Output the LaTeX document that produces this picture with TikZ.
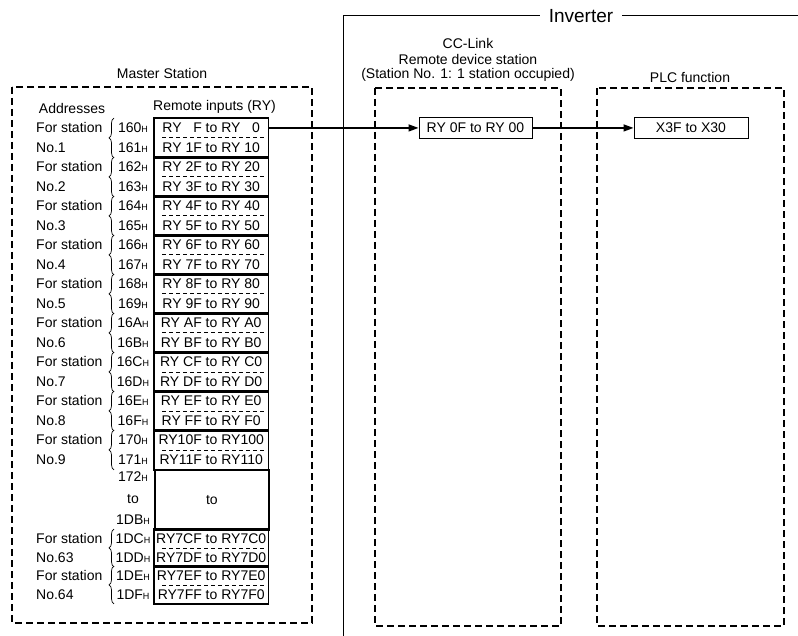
\documentclass[tikz,border=0pt]{standalone}
\usepackage{fontspec}
\setmainfont{Liberation Sans}
\usetikzlibrary{arrows.meta, decorations.pathreplacing, positioning}

\tikzset{
    txt/.style={font=\fontsize{14}{16}\selectfont, inner sep=0pt},
    zeile/.style={txt, minimum width=114pt, minimum height=19.5pt, anchor=north west},
    paar/.style={line width=1.8pt},
    trenn/.style={line width=0.8pt, dash pattern=on 4pt off 3pt},
    station/.style={line width=1.6pt, dash pattern=on 7pt off 4pt},
    kasten/.style={txt, draw, line width=1pt, minimum width=113pt, minimum height=21pt},
    klammer/.style={decorate, decoration={brace, amplitude=5pt}, line width=0.7pt},
    pfeil/.style={->, line width=1.5pt},
    rahmen/.style={line width=1pt}
}
\newcommand{\adr}[1]{#1{\fontsize{9}{9}\selectfont H}}

\begin{document}
\begin{tikzpicture}[x=1pt, y=-1pt, >={Triangle[length=10pt, width=7pt]}]
        \useasboundingbox (0,0) rectangle (798,636);

        % --- Master Station ---
        \draw[station] (12,87) rectangle (312,623);
        \node[txt] (master) at (162,73) {Master Station};
        \node[txt] (adressen) at (72,108) {Addresses};
        \node[txt, anchor=west] (eingaenge) at (153,107) {Remote inputs (RY)};

        % Stationen 1 bis 9
        \foreach \a/\b/\ta/\tb/\n [count=\i from 0] in {
            160/161/{RY \hphantom{1}F to RY \hphantom{1}0}/{RY 1F to RY 10}/1,
            162/163/{RY 2F to RY 20}/{RY 3F to RY 30}/2,
            164/165/{RY 4F to RY 40}/{RY 5F to RY 50}/3,
            166/167/{RY 6F to RY 60}/{RY 7F to RY 70}/4,
            168/169/{RY 8F to RY 80}/{RY 9F to RY 90}/5,
            16A/16B/{RY AF to RY A0}/{RY BF to RY B0}/6,
            16C/16D/{RY CF to RY C0}/{RY DF to RY D0}/7,
            16E/16F/{RY EF to RY E0}/{RY FF to RY F0}/8,
            170/171/{RY10F to RY100}/{RY11F to RY110}/9} {
            \pgfmathsetmacro\oben{118+39*\i}
            \node[zeile] (o\n) at (154,\oben) {\ta};
            \node[zeile, below=0pt of o\n] (u\n) {\tb};
            \draw[paar] (o\n.north west) rectangle (u\n.south east);
            \draw[trenn] ([xshift=8pt]o\n.south west) -- ([xshift=-3pt]o\n.south east);
            \node[txt] (ao\n) at (133,0 |- o\n) {\adr{\a}};
            \node[txt] (au\n) at (133,0 |- u\n) {\adr{\b}};
            \node[txt, anchor=west] (st\n) at (36,0 |- o\n) {For station};
            \node[txt, anchor=west] (nr\n) at (36,0 |- u\n) {No.\n};
            \draw[klammer] (114,0 |- u\n.south) -- (114,0 |- o\n.north);
        }

        % Luecke 172H bis 1DBH
        \node[zeile, draw, line width=1.8pt, minimum height=60pt] (bis) at (154,469) {to};
        \node[txt] (a172) at (133,477) {\adr{172}};
        \node[txt] (abis) at (133,499) {to};
        \node[txt] (a1DB) at (133,520) {\adr{1DB}};

        % Stationen 63 und 64
        \foreach \a/\b/\ta/\tb/\n [count=\i from 0] in {
            1DC/1DD/{RY7CF to RY7C0}/{RY7DF to RY7D0}/63,
            1DE/1DF/{RY7EF to RY7E0}/{RY7FF to RY7F0}/64} {
            \pgfmathsetmacro\oben{529+37*\i}
            \node[zeile, minimum height=18.5pt] (o\n) at (154,\oben) {\ta};
            \node[zeile, minimum height=18.5pt, below=0pt of o\n] (u\n) {\tb};
            \draw[paar] (o\n.north west) rectangle (u\n.south east);
            \draw[trenn] ([xshift=8pt]o\n.south west) -- ([xshift=-3pt]o\n.south east);
            \node[txt] (ao\n) at (133,0 |- o\n) {\adr{\a}};
            \node[txt] (au\n) at (133,0 |- u\n) {\adr{\b}};
            \node[txt, anchor=west] (st\n) at (36,0 |- o\n) {For station};
            \node[txt, anchor=west] (nr\n) at (36,0 |- u\n) {No.\n};
            \draw[klammer] (114,0 |- u\n.south) -- (114,0 |- o\n.north);
        }

        % --- Inverter ---
        \node[txt, font=\fontsize{19}{22}\selectfont, inner xsep=9pt] (inv) at (581,16) {Inverter};
        \draw[rahmen] (inv.west) -- (343,16) -- (343,636);
        \draw[rahmen] (inv.east) -- (798,16);

        % CC-Link Station
        \draw[station] (375,88) rectangle (561,626);
        \node[txt] (cc1) at (468,43) {CC-Link};
        \node[txt] (cc2) at (468,59) {Remote device station};
        \node[txt] (cc3) at (468,75) {(Station No. 1: 1 station occupied)};
        \node[kasten] (ccry) at (475.5,0 |- o1) {RY 0F to RY 00};

        % PLC-Funktion
        \draw[station] (597,88) rectangle (784,626);
        \node[txt] (plc) at (690,77) {PLC function};
        \node[kasten, minimum width=114pt, right=101pt of ccry] (plcx) {X3F to X30};

        % Pfeile
        \draw[pfeil] (o1) -- (ccry);
        \draw[pfeil] (ccry) -- (plcx);

    \end{tikzpicture}
\end{document}
